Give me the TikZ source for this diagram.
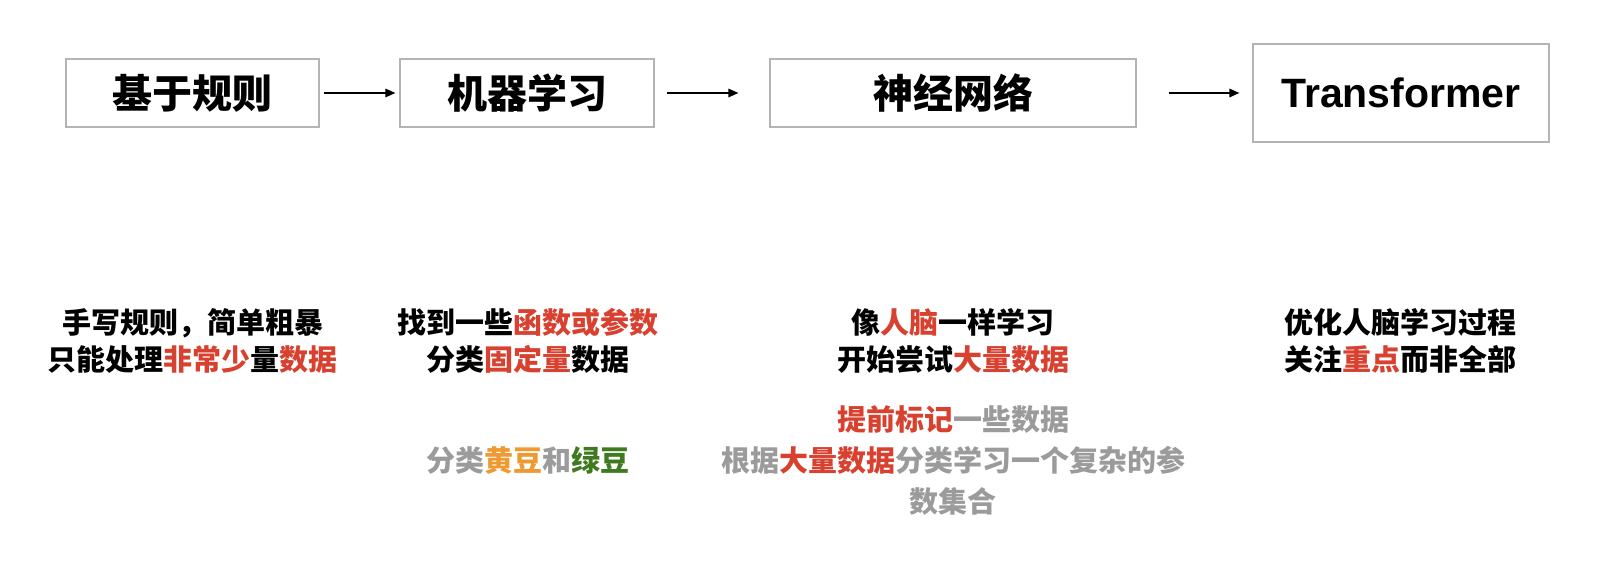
\documentclass[tikz,border=0pt]{standalone}
\usepackage{fontspec}
\usetikzlibrary{arrows.meta}
\newfontfamily\cjk{Noto Sans CJK SC}
\newfontfamily\lsans{Liberation Sans}
\definecolor{hl}{HTML}{D8412F}
\definecolor{gr}{HTML}{9B9B9B}
\definecolor{og}{HTML}{EE9A32}
\definecolor{gn}{HTML}{3F7A1F}
\definecolor{bd}{HTML}{B4B4B4}
\tikzset{
  stagebox/.style={draw=bd, line width=1.2pt, fill=white, inner sep=0pt, minimum height=68pt},
  title/.style={font=\cjk\bfseries\fontsize{40}{44}\selectfont},
  flow/.style={line width=1.5pt, -{Triangle[length=10pt,width=8.5pt]}},
  note/.style={align=center, inner sep=0pt, font=\cjk\bfseries\fontsize{29}{37}\selectfont},
  gnote/.style={note, text=gr, font=\cjk\bfseries\fontsize{29}{41}\selectfont},
}
\begin{document}
\begin{tikzpicture}[x=1pt,y=-1pt]
\useasboundingbox (0,0) rectangle (1600,578);
\fill[white] (0,0) rectangle (1600,578);
\node[stagebox, title, minimum width=253pt] (b1) at (192.5,93) {基于规则};
\node[stagebox, title, minimum width=254pt] (b2) at (527,93) {机器学习};
\node[stagebox, title, minimum width=366pt] (b3) at (953,93) {神经网络};
\node[stagebox, minimum width=296pt, minimum height=98pt, font=\lsans\bfseries\fontsize{41}{44}\selectfont] (b4) at (1401,93) {Transformer};
\draw[flow, shorten <=4pt, shorten >=4pt] (b1.east) -- (b2.west);
\draw[flow, shorten <=12pt, shorten >=31pt] (b2.east) -- (b3.west);
\draw[flow, shorten <=32pt, shorten >=13pt] (b3.east) -- (b4.west);
\node[note] (t1) at (192.5,341) {手写规则，简单粗暴\\只能处理\textcolor{hl}{非常少}量\textcolor{hl}{数据}};
\node[note] (t2) at (528,341) {找到一些\textcolor{hl}{函数或参数}\\分类\textcolor{hl}{固定量}数据};
\node[note] (t3) at (953,341) {像\textcolor{hl}{人脑}一样学习\\开始尝试\textcolor{hl}{大量数据}};
\node[note] (t4) at (1400,341) {优化人脑学习过程\\关注\textcolor{hl}{重点}而非全部};
\node[gnote] (g2) at (528,460) {分类\textcolor{og}{黄豆}和\textcolor{gn}{绿豆}};
\node[gnote] (g3) at (953,461) {\textcolor{hl}{提前标记}一些数据\\根据\textcolor{hl}{大量数据}分类学习一个复杂的参\\数集合};
\end{tikzpicture}
\end{document}
